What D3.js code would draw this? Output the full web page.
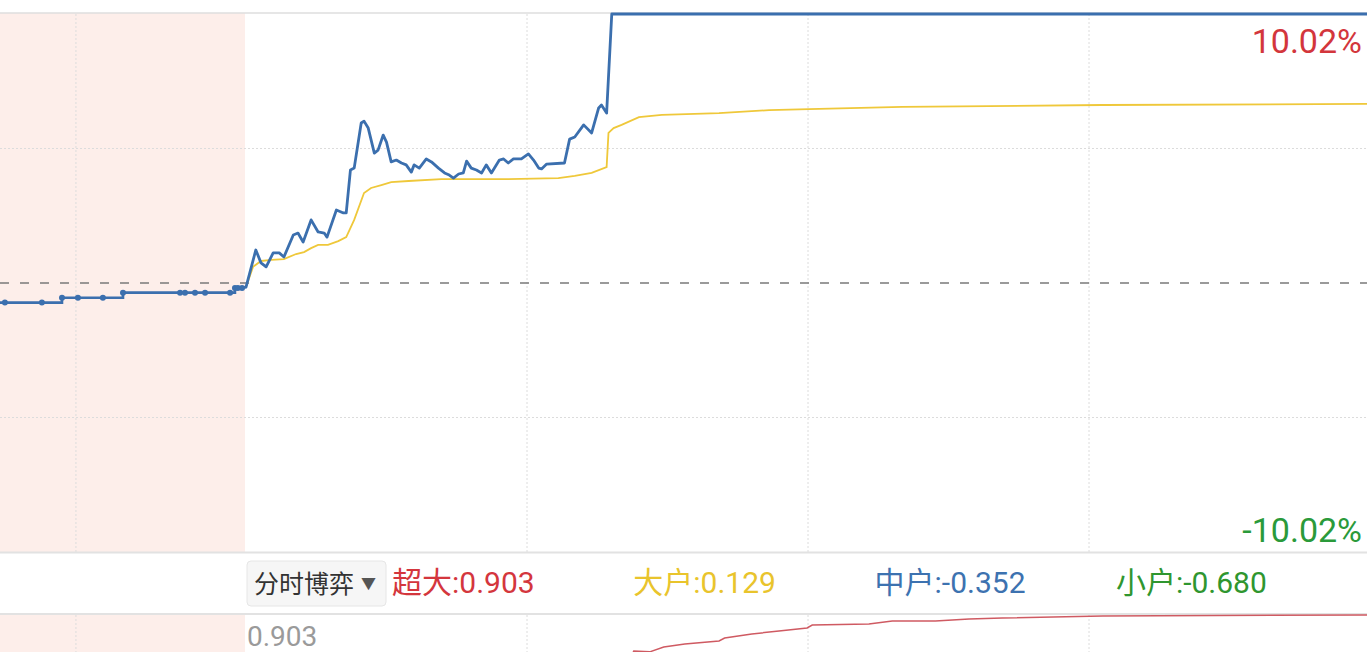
<!DOCTYPE html>
<html>
<head>
<meta charset="utf-8">
<script src="https://cdn.jsdelivr.net/npm/d3@7"></script>
<style>
  body { margin: 0; background: #fff; }
  svg { display: block; }
  text { font-family: Roboto, "Noto Sans CJK SC", sans-serif; }
</style>
</head>
<body>
<svg id="chart" width="1367" height="652"></svg>
<script>
// Intraday % change vs previous close, limit-up day.
// Pre-market (call auction) minutes after 9:15
const preTimes  = [0, 0.2, 1.71, 2.53, 3.18, 4.20, 5.02, 7.35, 7.55, 7.96, 8.37, 9.39, 9.59, 9.71, 9.88];
const preValues = [-0.73, -0.73, -0.73, -0.55, -0.55, -0.55, -0.36, -0.36, -0.36, -0.36, -0.36, -0.36, -0.19, -0.19, -0.19];

// Trading session: minutes after open (0..240)
const priceTimes = [0, 2.1, 3.2, 4.3, 5.8, 7.1, 8.1, 10.1, 11.1, 12.2, 13.9, 15.4, 16.7, 17.3, 19.3, 20.8, 21.4,
  22.3, 23.1, 24.6, 25.2, 26.1, 27.4, 28.2, 29.3, 30.0, 31.0, 32.1, 33.2, 34.2, 35.3, 35.9, 37.0, 38.5, 39.6,
  41.1, 42.4, 43.4, 44.3, 45.4, 46.4, 47.1, 48.1, 49.2, 50.3, 51.3, 52.4, 54.1, 55.0, 56.0, 57.1, 58.8, 60.3,
  61.4, 62.5, 63.1, 64.2, 68.0, 69.1, 70.2, 72.1, 73.8, 75.3, 75.9, 77.0, 78.1, 240];
const priceValues = [-0.15, 1.23, 0.75, 0.60, 1.12, 1.12, 0.97, 1.79, 1.86, 1.53, 2.35, 1.90, 1.86, 1.71, 2.72, 2.61, 2.61,
  4.21, 4.28, 5.96, 6.03, 5.77, 4.84, 4.95, 5.51, 5.25, 4.51, 4.58, 4.47, 4.40, 4.13, 4.40, 4.28, 4.62, 4.51,
  4.28, 4.10, 4.02, 3.91, 4.06, 4.10, 4.54, 4.28, 4.21, 4.10, 4.40, 4.10, 4.58, 4.62, 4.47, 4.62, 4.62, 4.81,
  4.58, 4.28, 4.25, 4.43, 4.47, 5.36, 5.44, 5.89, 5.59, 6.52, 6.63, 6.33, 10.02, 10.02];

const avgTimes  = [0, 1.5, 3.2, 5.4, 8.1, 10.7, 12.4, 13.9, 15.4, 17.5, 19.7, 21.4, 23.1, 25.2, 26.7, 28.9, 31.0,
  34.7, 41.7, 56.0, 66.7, 70.2, 73.8, 77.0, 77.4, 78.5, 80.2, 83.9, 88.8, 101.0, 111.7, 120.2, 140.1, 182.9, 240];
const avgValues = [-0.15, 0.60, 0.82, 0.86, 0.89, 1.08, 1.15, 1.30, 1.42, 1.42, 1.56, 1.71, 2.35, 3.35, 3.54, 3.65, 3.76,
  3.80, 3.87, 3.87, 3.91, 3.99, 4.10, 4.32, 5.59, 5.77, 5.89, 6.18, 6.26, 6.33, 6.44, 6.48, 6.56, 6.63, 6.67];

// 超大 cumulative net flow (lower panel)
const superTimes  = [81.9, 82.8, 86.2, 89.2, 93.7, 101.0, 102.2, 108.0, 113.8, 119.8, 120.9, 133.0, 138.0, 147.2, 154.4, 161.5, 182.9, 240];
const superValues = [0.30, 0.42, 0.41, 0.475, 0.515, 0.555, 0.595, 0.649, 0.689, 0.729, 0.769, 0.783, 0.823, 0.823, 0.849, 0.863, 0.890, 0.903];

const limitPct = 10.02;
const yGrid = [10.02, 5.01, -5.01, -10.02];
const timeGrid = [60, 120, 180];
const preGrid = [3.1];
const legendNames = ['超大', '大户', '中户', '小户'];
const legendValues = [0.903, 0.129, -0.352, -0.680];
const legendColors = ['#d4363d', '#e9c42c', '#3d72b0', '#2f962f'];

const W = 1367;
const mainBox = { y0: 14, y1: 552 };
const preW = 245;
const lowBox = { y0: 615, y1: 750 };

const svg = d3.select('#chart');

const xPre = d3.scaleLinear().domain([0, 10]).range([0, preW]);
const x = d3.scaleLinear().domain([0, 240]).range([246, 1370]);
const y = d3.scaleLinear().domain([-limitPct, limitPct]).range([mainBox.y1, mainBox.y0]);
const yLow = d3.scaleLinear().domain([-0.903, 0.903]).range([lowBox.y1, lowBox.y0]);

// pre-market shading
svg.append('rect').attr('x', 0).attr('y', y(limitPct) - 1).attr('width', preW)
  .attr('height', y(-limitPct) - y(limitPct) + 1).attr('fill', '#fdeeea');
svg.append('rect').attr('x', 0).attr('y', lowBox.y0).attr('width', preW)
  .attr('height', 652 - lowBox.y0).attr('fill', '#fdeeea');

// grid
const gridCol = '#dcdcdc';
svg.append('g').selectAll('line').data(yGrid.slice(1, 3)).join('line')
  .attr('x1', 0).attr('x2', W).attr('y1', d => y(d)).attr('y2', d => y(d))
  .attr('stroke', gridCol).attr('stroke-dasharray', '2,2');
svg.append('line').attr('x1', 0).attr('x2', W).attr('y1', y(limitPct) - 1).attr('y2', y(limitPct) - 1)
  .attr('stroke', '#dedede').attr('stroke-width', 1.5);

const vx = [...preGrid.map(d => xPre(d)), ...timeGrid.map(d => x(d))];
for (const [a, b] of [[y(limitPct), y(-limitPct)], [lowBox.y0, 652]]) {
  svg.append('g').selectAll('line').data(vx).join('line')
    .attr('x1', d => d).attr('x2', d => d).attr('y1', a).attr('y2', b)
    .attr('stroke', gridCol).attr('stroke-dasharray', '2,2');
}

// zero line
svg.append('line').attr('x1', 0).attr('x2', W).attr('y1', y(0)).attr('y2', y(0))
  .attr('stroke', '#7a7a7a').attr('stroke-width', 1.5).attr('stroke-dasharray', '9,11');

// average price line
const avgLine = d3.line().x(d => x(d[0])).y(d => y(d[1]));
svg.append('path').datum(d3.zip(avgTimes, avgValues))
  .attr('d', avgLine).attr('fill', 'none').attr('stroke', '#efc83a').attr('stroke-width', 1.8);

// pre-market price (step)
const blue = '#3b6fae';
const pre = d3.zip(preTimes, preValues);
svg.append('path').datum(pre)
  .attr('d', d3.line().x(d => xPre(d[0])).y(d => y(d[1])).curve(d3.curveStepAfter))
  .attr('fill', 'none').attr('stroke', blue).attr('stroke-width', 2.6);
svg.append('line')
  .attr('x1', xPre(preTimes[preTimes.length - 1])).attr('y1', y(preValues[preValues.length - 1]))
  .attr('x2', x(priceTimes[0])).attr('y2', y(priceValues[0]))
  .attr('stroke', blue).attr('stroke-width', 2.6);
svg.append('g').selectAll('circle').data(pre.slice(1)).join('circle')
  .attr('cx', d => xPre(d[0])).attr('cy', d => y(d[1])).attr('r', 3).attr('fill', blue);

// session price line
svg.append('path').datum(d3.zip(priceTimes, priceValues))
  .attr('d', d3.line().x(d => x(d[0])).y(d => y(d[1])))
  .attr('fill', 'none').attr('stroke', blue).attr('stroke-width', 2.8)
  .attr('stroke-linejoin', 'round').attr('stroke-linecap', 'round');

// limit labels
svg.append('text').attr('x', 1362).attr('y', 53).attr('text-anchor', 'end')
  .attr('font-size', 34).attr('fill', '#d3363c').text(`${limitPct.toFixed(2)}%`);
svg.append('text').attr('x', 1362).attr('y', 542).attr('text-anchor', 'end')
  .attr('font-size', 34).attr('fill', '#2a9a3a').text(`-${limitPct.toFixed(2)}%`);

// legend bar
svg.append('rect').attr('x', 0).attr('y', 552).attr('width', W).attr('height', 62).attr('fill', '#fff');
svg.append('line').attr('x1', 0).attr('x2', W).attr('y1', 552.5).attr('y2', 552.5)
  .attr('stroke', '#e2e2e2').attr('stroke-width', 2);
svg.append('line').attr('x1', 0).attr('x2', W).attr('y1', 614).attr('y2', 614)
  .attr('stroke', '#e2e2e2').attr('stroke-width', 2);

svg.append('rect').attr('x', 247).attr('y', 561).attr('width', 139).attr('height', 45).attr('rx', 4)
  .attr('fill', '#f6f6f6').attr('stroke', '#e6e6e6');
svg.append('text').attr('x', 254).attr('y', 593).attr('font-size', 25).attr('fill', '#333')
  .text('分时博弈');
svg.append('text').attr('x', 361).attr('y', 589).attr('font-size', 15).attr('fill', '#555').text('▼');

svg.append('g').selectAll('text').data(legendNames).join('text')
  .attr('x', (d, i) => 392 + i * 241.3).attr('y', 593)
  .attr('font-size', 30).attr('fill', (d, i) => legendColors[i])
  .text((d, i) => `${d}:${legendValues[i].toFixed(3)}`);

// lower panel
svg.append('path').datum(d3.zip(superTimes, superValues))
  .attr('d', d3.line().x(d => x(d[0])).y(d => yLow(d[1])))
  .attr('fill', 'none').attr('stroke', '#cf5a62').attr('stroke-width', 1.5);
svg.append('text').attr('x', 247).attr('y', 646).attr('font-size', 28).attr('fill', '#9a9a9a')
  .text(legendValues[0].toFixed(3));
</script>
</body>
</html>
